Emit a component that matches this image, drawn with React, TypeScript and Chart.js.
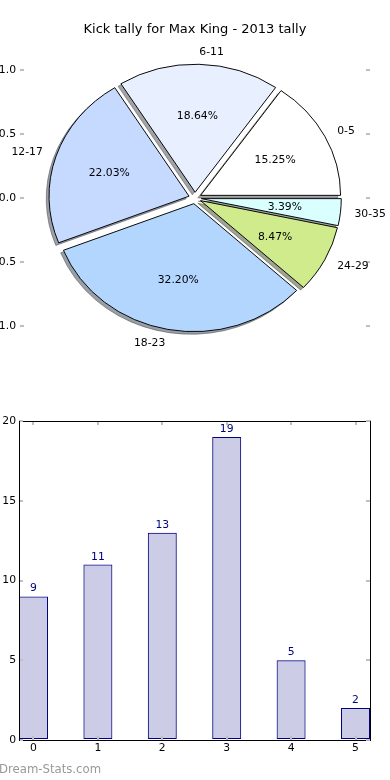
import React, { useEffect, useRef } from "react";
import { Chart, registerables } from "chart.js";

Chart.register(...registerables);

// ---------------- data ----------------
const ageGroups = ["0-5", "6-11", "12-17", "18-23", "24-29", "30-35"];
const kickCounts = [9, 11, 13, 19, 5, 2];
const sliceColors = ["#ffffff", "#e8f0ff", "#c6d9ff", "#b3d6ff", "#d0eb8c", "#d9ffff"];
const pieAxisTicks = [-1, -0.5, 0, 0.5, 1];
const barPositions = [0, 1, 2, 3, 4, 5];
const barAxisTicksY = [0, 5, 10, 15, 20];
const chartTitle = "Kick tally for Max King - 2013 tally";
const watermark = "Dream-Stats.com";

// ---------------- style ----------------
const FONT = "'DejaVu Sans', 'Noto Sans', sans-serif";
const SMALL = 10.8;
const PX_X = 140; // pie axes: pixels per data unit (horizontal)
const PX_Y = 128; // pie axes: pixels per data unit (vertical)
const EXPLODE = 0.045;
const LABEL_DIST = 1.1;
const PCT_DIST = 0.6;
const SHADOW_DX = -2.8;
const SHADOW_DY = 2.6;
const TICK_COLOR = "#bfbfbf";
const BAR_FILL = "rgba(0,0,128,0.2)";
const BAR_EDGE = "#000080";

Chart.defaults.font.family = FONT;

function shadowOf(hex: string) {
  const n = parseInt(hex.slice(1), 16);
  const r = (n >> 16) & 255, g = (n >> 8) & 255, b = n & 255;
  return `rgba(${Math.round(r * 0.3)},${Math.round(g * 0.3)},${Math.round(b * 0.3)},0.5)`;
}

const pieLabels = [...ageGroups].reverse();
const pieValues = [...kickCounts].reverse();
const pieColors = [...sliceColors].reverse();

const piePlugin = {
  id: "pieDraw",
  beforeDatasetsDraw(chart: any) {
    const ctx = chart.ctx;
    const arcs = chart.getDatasetMeta(0).data as any[];
    if (!arcs.length) return false;
    const cx = arcs[0].x, cy = arcs[0].y;
    const ky = PX_Y / PX_X;
    const colors = chart.data.datasets[0].backgroundColor as string[];
    ctx.save();
    ctx.translate(cx, cy);
    ctx.scale(1, ky);
    ctx.translate(-cx, -cy);
    // shadows (all beneath all wedges)
    arcs.forEach((arc, i) => {
      const mid = (arc.startAngle + arc.endAngle) / 2;
      const ex = Math.cos(mid) * EXPLODE * arc.outerRadius;
      const ey = Math.sin(mid) * EXPLODE * arc.outerRadius;
      ctx.save();
      ctx.translate(ex + SHADOW_DX, ey + SHADOW_DY / ky);
      ctx.beginPath();
      ctx.moveTo(arc.x, arc.y);
      ctx.arc(arc.x, arc.y, arc.outerRadius, arc.startAngle, arc.endAngle);
      ctx.closePath();
      const sc = shadowOf(colors[i]);
      ctx.fillStyle = sc;
      ctx.fill();
      ctx.strokeStyle = sc;
      ctx.lineWidth = 1;
      ctx.stroke();
      ctx.restore();
    });
    // exploded wedges
    arcs.forEach((arc) => {
      const mid = (arc.startAngle + arc.endAngle) / 2;
      const ex = Math.cos(mid) * EXPLODE * arc.outerRadius;
      const ey = Math.sin(mid) * EXPLODE * arc.outerRadius;
      ctx.save();
      ctx.translate(ex, ey);
      arc.draw(ctx);
      ctx.restore();
    });
    ctx.restore();
    return false;
  },
  afterDraw(chart: any) {
    const ctx = chart.ctx;
    const arcs = chart.getDatasetMeta(0).data as any[];
    const values = chart.data.datasets[0].data as number[];
    const labels = chart.data.labels as string[];
    const total = values.reduce((a, b) => a + b, 0);
    const ky = PX_Y / PX_X;
    ctx.save();
    ctx.font = `${SMALL}px ${FONT}`;
    ctx.fillStyle = "#000";
    ctx.textBaseline = "middle";
    arcs.forEach((arc, i) => {
      const mid = (arc.startAngle + arc.endAngle) / 2;
      const c = Math.cos(mid), s = Math.sin(mid);
      const R = arc.outerRadius;
      const lx = arc.x + c * R * (LABEL_DIST + EXPLODE);
      const ly = arc.y + s * R * ky * (LABEL_DIST + EXPLODE);
      ctx.textAlign = c > 0 ? "left" : "right";
      ctx.fillText(labels[i], lx, ly + 0.7);
      const px = arc.x + c * R * (PCT_DIST + EXPLODE);
      const py = arc.y + s * R * ky * (PCT_DIST + EXPLODE);
      ctx.textAlign = "center";
      ctx.fillText(((values[i] / total) * 100).toFixed(2) + "%", px, py + 0.7);
    });
    ctx.restore();
  },
};

const barLabelPlugin = {
  id: "barLabels",
  afterDatasetsDraw(chart: any) {
    const ctx = chart.ctx;
    const bars = chart.getDatasetMeta(0).data as any[];
    const data = chart.data.datasets[0].data as any[];
    ctx.save();
    ctx.font = `${SMALL}px ${FONT}`;
    ctx.fillStyle = BAR_EDGE;
    ctx.textAlign = "center";
    ctx.textBaseline = "alphabetic";
    bars.forEach((bar, i) => {
      ctx.fillText(String(data[i].y), bar.x, bar.y - 5);
    });
    ctx.restore();
  },
};

const tickGrid = (z: number) => ({
  drawOnChartArea: false,
  drawTicks: true,
  tickLength: -4,
  color: TICK_COLOR,
  lineWidth: 2,
  offset: false,
  z,
});

function pieConfig(): any {
  return {
    type: "pie",
    data: {
      labels: pieLabels,
      datasets: [
        {
          data: pieValues,
          backgroundColor: pieColors,
          borderColor: "#000",
          borderWidth: 1,
          borderJoinStyle: "miter",
          radius: PX_X,
          rotation: 90,
          offset: 0,
          hoverOffset: 0,
        },
      ],
    },
    options: {
      responsive: false,
      animation: false,
      devicePixelRatio: 1,
      events: [],
      layout: { padding: { top: 0, bottom: 42, left: 0, right: 0 } },
      plugins: {
        legend: { display: false },
        tooltip: { enabled: false },
        title: {
          display: true,
          text: chartTitle,
          color: "#000",
          font: { family: FONT, size: 13, weight: "normal" },
          padding: { top: 21.5, bottom: 0.9 },
        },
      },
      scales: {
        y: {
          type: "linear",
          position: "left",
          min: -1.25,
          max: 1.25,
          bounds: "data",
          afterBuildTicks: (s: any) => {
            s.ticks = pieAxisTicks.map((v) => ({ value: v }));
          },
          afterFit: (s: any) => {
            s.width = 20;
          },
          border: { display: false },
          grid: tickGrid(-1),
          ticks: {
            padding: 8,
            color: "#000",
            font: { family: FONT, size: SMALL },
            callback: (v: any) => Number(v).toFixed(1),
          },
        },
        y2: {
          type: "linear",
          position: "right",
          min: -1.25,
          max: 1.25,
          bounds: "data",
          afterBuildTicks: (s: any) => {
            s.ticks = pieAxisTicks.map((v) => ({ value: v }));
          },
          afterFit: (s: any) => {
            s.width = 20;
          },
          border: { display: false },
          grid: tickGrid(-1),
          ticks: { display: false },
        },
      },
    },
    plugins: [piePlugin],
  };
}

function barConfig(): any {
  const border = { display: true, color: "#000", width: 1, z: 1 };
  const xTicks = (s: any) => {
    s.ticks = barPositions.map((v) => ({ value: v }));
  };
  const yTicks = (s: any) => {
    s.ticks = barAxisTicksY.map((v) => ({ value: v }));
  };
  return {
    type: "bar",
    data: {
      datasets: [
        {
          data: barPositions.map((x, i) => ({ x, y: kickCounts[i] })),
          backgroundColor: BAR_FILL,
          borderColor: BAR_EDGE,
          borderWidth: 1,
          borderSkipped: false,
          barPercentage: 0.45,
          categoryPercentage: 1,
        },
      ],
    },
    options: {
      responsive: false,
      animation: false,
      devicePixelRatio: 1,
      events: [],
      layout: { padding: { top: 21, right: 20, left: 0, bottom: 0 } },
      plugins: { legend: { display: false }, tooltip: { enabled: false } },
      scales: {
        x: {
          type: "linear",
          position: "bottom",
          min: -0.225,
          max: 5.225,
          bounds: "data",
          offset: false,
          afterBuildTicks: xTicks,
          afterFit: (s: any) => {
            s.height = 40;
          },
          border,
          grid: tickGrid(1),
          ticks: {
            padding: 6,
            color: "#000",
            font: { family: FONT, size: SMALL },
            maxRotation: 0,
            callback: (v: any) => String(v),
          },
        },
        x2: {
          type: "linear",
          position: "top",
          min: -0.225,
          max: 5.225,
          bounds: "data",
          offset: false,
          afterBuildTicks: xTicks,
          afterFit: (s: any) => {
            s.height = 0;
          },
          border,
          grid: tickGrid(1),
          ticks: { display: false },
        },
        y: {
          type: "linear",
          position: "left",
          min: 0,
          max: 20,
          bounds: "data",
          afterBuildTicks: yTicks,
          afterFit: (s: any) => {
            s.width = 19;
          },
          border,
          grid: tickGrid(1),
          ticks: {
            padding: 7,
            color: "#000",
            font: { family: FONT, size: SMALL },
            callback: (v: any) => String(v),
          },
        },
        y2: {
          type: "linear",
          position: "right",
          min: 0,
          max: 20,
          bounds: "data",
          afterBuildTicks: yTicks,
          afterFit: (s: any) => {
            s.width = 0;
          },
          border,
          grid: tickGrid(1),
          ticks: { display: false },
        },
      },
    },
    plugins: [barLabelPlugin],
  };
}

export default function App() {
  const pieRef = useRef<HTMLCanvasElement>(null);
  const barRef = useRef<HTMLCanvasElement>(null);

  useEffect(() => {
    const pie = new Chart(pieRef.current as HTMLCanvasElement, pieConfig());
    const bar = new Chart(barRef.current as HTMLCanvasElement, barConfig());
    return () => {
      pie.destroy();
      bar.destroy();
    };
  }, []);

  return (
    <div
      style={{
        position: "absolute",
        left: 0,
        top: 0,
        width: 390,
        height: 780,
        background: "#fff",
        overflow: "hidden",
      }}
    >
      <canvas
        ref={pieRef}
        width={390}
        height={400}
        style={{ position: "absolute", left: 0, top: 0, width: 390, height: 400 }}
      />
      <canvas
        ref={barRef}
        width={390}
        height={380}
        style={{ position: "absolute", left: 0, top: 400, width: 390, height: 380 }}
      />
      <div
        style={{
          position: "absolute",
          left: -1,
          top: 762,
          fontFamily: FONT,
          fontSize: 11.7,
          lineHeight: "14px",
          color: "#999",
          whiteSpace: "nowrap",
        }}
      >
        {watermark}
      </div>
    </div>
  );
}
